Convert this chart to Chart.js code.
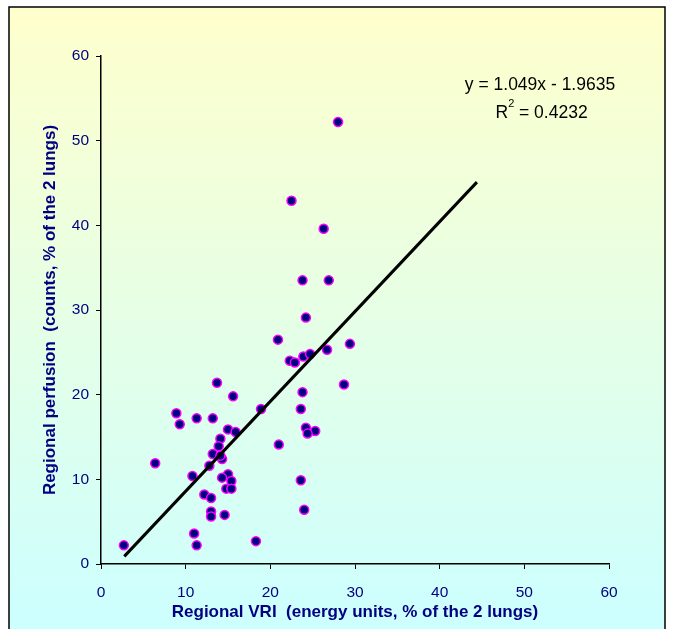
<!DOCTYPE html>
<html>
<head>
<meta charset="utf-8">
<script src="https://cdn.jsdelivr.net/npm/chart.js@4"></script>
<style>
  body { margin: 0; background: #fff; }
  #wrap { width: 676px; height: 629px; }
</style>
</head>
<body>
<div id="wrap"><canvas id="chart" width="676" height="629"></canvas></div>
<script>
// Regional VRI (x) vs regional perfusion (y)
const vriValues = [28.0, 22.5, 26.3, 23.8, 26.9, 24.2, 20.9, 22.3, 22.9, 23.9, 24.7, 26.7, 29.4, 28.7,
  13.7, 15.6, 23.8, 23.6, 18.9, 8.9, 11.3, 13.2, 9.3, 24.2, 25.3, 24.4, 15.0, 15.9, 14.1, 13.9,
  21.0, 13.2, 14.3, 14.1, 6.4, 12.8, 10.8, 15.0, 14.3, 15.4, 23.6, 14.8, 15.4, 12.2, 13.0, 13.0,
  13.0, 14.6, 24.0, 11.0, 11.3, 2.7, 18.3];
const perfusionValues = [52.2, 42.9, 39.6, 33.5, 33.5, 29.1, 26.5, 24.0, 23.8, 24.5, 24.8, 25.3, 26.0, 21.2,
  21.4, 19.8, 20.3, 18.3, 18.3, 17.8, 17.2, 17.2, 16.5, 16.1, 15.7, 15.4, 15.9, 15.6, 14.8, 13.9,
  14.1, 13.0, 12.4, 12.8, 11.9, 11.6, 10.4, 10.6, 10.2, 9.8, 9.9, 8.9, 8.9, 8.2, 7.8, 6.2,
  5.6, 5.8, 6.4, 3.6, 2.2, 2.2, 2.7];

// trendline end points as drawn
const trendX = [2.75, 44.4];
const trendY = [0.9, 45.1];

const axisTicks = [0, 10, 20, 30, 40, 50, 60];
const equationText = "y = 1.049x - 1.9635";
const r2Value = "0.4232";

const navy = "#000080";
const fontFamily = "'Liberation Sans', Arial, sans-serif";

const points = vriValues.map((x, i) => ({ x: x, y: perfusionValues[i] }));
const trend = trendX.map((x, i) => ({ x: x, y: trendY[i] }));

const backdrop = {
  id: "backdrop",
  beforeDraw(chart) {
    const c = chart.ctx;
    c.save();
    c.fillStyle = "#ffffff";
    c.fillRect(0, 0, chart.width, chart.height);
    const g = c.createLinearGradient(0, 7, 0, chart.height);
    g.addColorStop(0, "#ffffcc");
    g.addColorStop(1, "#ccffff");
    c.fillStyle = g;
    c.fillRect(9, 7, 656, chart.height - 7);
    c.strokeStyle = "#000";
    c.lineWidth = 1.5;
    c.beginPath();
    c.moveTo(9, chart.height);
    c.lineTo(9, 7);
    c.lineTo(665, 7);
    c.lineTo(665, chart.height);
    c.stroke();
    c.restore();
  },
  afterDraw(chart) {
    const c = chart.ctx;
    c.save();
    c.fillStyle = "#000";
    c.textAlign = "center";
    c.textBaseline = "middle";
    c.font = "17.5px " + fontFamily;
    c.fillText(equationText, 540, 85);
    const w = c.measureText("R  = " + r2Value).width;
    const left = 541 - w / 2;
    c.textAlign = "left";
    c.fillText("R", left, 113);
    const rw = c.measureText("R").width;
    c.font = "11px " + fontFamily;
    c.fillText("2", left + rw, 104);
    c.font = "17.5px " + fontFamily;
    c.fillText(" = " + r2Value, left + rw + 6, 113);
    c.restore();
  }
};

new Chart(document.getElementById("chart"), {
  type: "scatter",
  data: {
    datasets: [
      {
        type: "line",
        data: trend,
        borderColor: "#000",
        borderWidth: 3,
        pointRadius: 0,
        fill: false
      },
      {
        data: points,
        backgroundColor: navy,
        borderColor: "#ff00ff",
        borderWidth: 1.5,
        pointRadius: 4.5
      }
    ]
  },
  options: {
    responsive: false,
    animation: false,
    layout: { padding: { top: 56, right: 67, left: 0, bottom: 0 } },
    plugins: { legend: { display: false }, tooltip: { enabled: false } },
    scales: {
      x: {
        type: "linear",
        min: 0,
        max: 60,
        afterBuildTicks: s => { s.ticks = axisTicks.map(v => ({ value: v })); },
        afterFit: s => { s.height = 65; },
        ticks: { color: navy, font: { family: fontFamily, size: 15.5 }, padding: 14 },
        grid: { drawOnChartArea: false, color: "#000", tickLength: 5 },
        border: { color: "#000", width: 1.5 },
        title: {
          display: true,
          text: "Regional VRI  (energy units, % of the 2 lungs)",
          color: navy,
          font: { family: fontFamily, size: 17, weight: "bold" },
          padding: { top: 0, bottom: 6 }
        }
      },
      y: {
        type: "linear",
        min: 0,
        max: 60,
        afterBuildTicks: s => { s.ticks = axisTicks.map(v => ({ value: v })); },
        afterFit: s => { s.width = 101; },
        ticks: { color: navy, font: { family: fontFamily, size: 15.5 }, padding: 7 },
        grid: { drawOnChartArea: false, color: "#000", tickLength: 5 },
        border: { color: "#000", width: 1.5 },
        title: {
          display: true,
          text: "Regional perfusion  (counts, % of the 2 lungs)",
          color: navy,
          font: { family: fontFamily, size: 17, weight: "bold" },
          padding: { top: 40, bottom: 0 }
        }
      }
    }
  },
  plugins: [backdrop]
});
</script>
</body>
</html>
